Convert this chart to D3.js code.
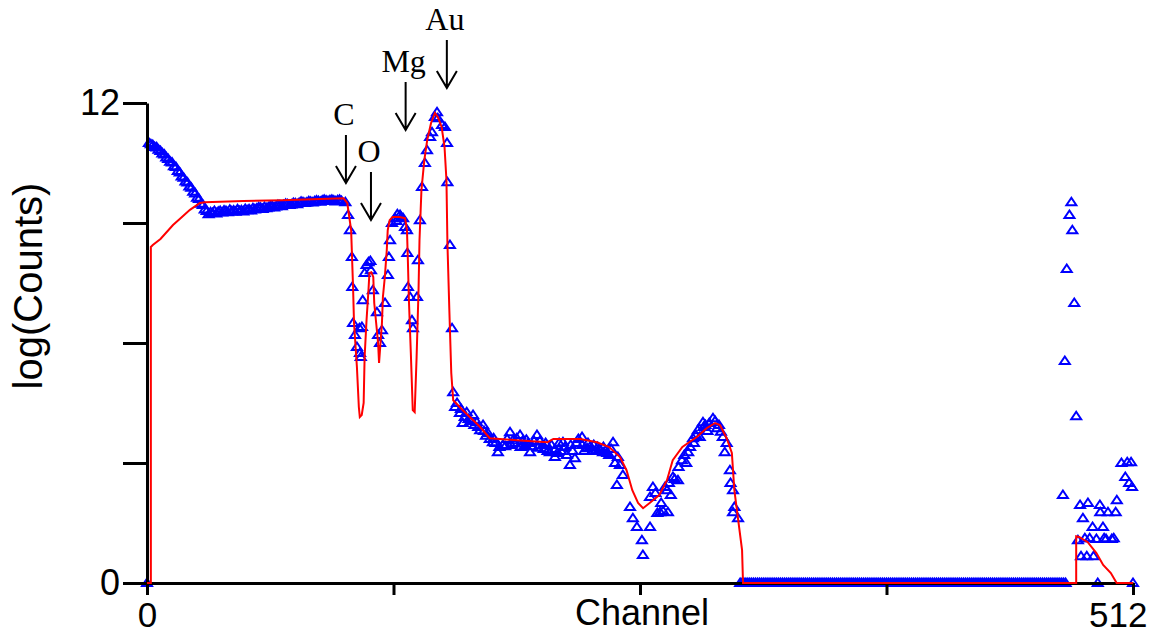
<!DOCTYPE html>
<html>
<head>
<meta charset="utf-8">
<script src="https://cdn.jsdelivr.net/npm/d3@7"></script>
<style>
  body { margin: 0; background: #fff; }
  svg { display: block; }
  .axis text { font-family: "Liberation Sans", Arial, sans-serif; font-size: 36px; fill: #000; }
  .axis line, .axis path { stroke: #000; stroke-width: 3; }
</style>
</head>
<body>
<script>
// measured spectrum, log(counts) for every channel from 0 to 101
const surfaceStart = 0;
const surfaceCounts = [
  0,
  11.0, 10.97, 10.95, 10.9, 10.89, 10.83, 10.8, 10.74, 10.71, 10.64,
  10.6, 10.53, 10.51, 10.42, 10.4, 10.3, 10.26, 10.16, 10.13, 10.04,
  10.01, 9.91, 9.88, 9.78, 9.74, 9.63, 9.6, 9.48, 9.45, 9.34,
  9.3, 9.22, 9.27, 9.25, 9.3, 9.24, 9.28, 9.3, 9.26, 9.31,
  9.3, 9.27, 9.33, 9.29, 9.31, 9.28, 9.34, 9.3, 9.32, 9.29,
  9.35, 9.32, 9.34, 9.31, 9.37, 9.34, 9.36, 9.39, 9.38, 9.35,
  9.4, 9.37, 9.39, 9.42, 9.42, 9.39, 9.41, 9.45, 9.44, 9.42,
  9.45, 9.48, 9.47, 9.45, 9.46, 9.5, 9.49, 9.47, 9.5, 9.53,
  9.52, 9.5, 9.51, 9.54, 9.53, 9.51, 9.54, 9.56, 9.55, 9.53,
  9.56, 9.58, 9.56, 9.55, 9.57, 9.58, 9.56, 9.54, 9.57, 9.58, 9.55
];
// [channel, log(counts)] in the peak and bulk regions
const peakCounts = [
  [103, 9.52], [104.4, 9.2], [105.4, 8.82], [106.4, 8.15], [106.6, 7.4], [107, 6.5], [108, 6.2],
  [109, 5.9], [110.3, 6.37], [110.6, 5.75], [111, 5.65], [111.6, 6.4], [112, 7.07], [113, 7.75],
  [114, 7.95], [115, 8.02], [116, 8.05], [116.3, 7.82], [117.3, 7.32], [119.4, 6.77], [120, 6.2],
  [121, 6.0], [122, 6.32], [123.6, 7.0], [125.1, 7.7], [125.6, 8.15], [126.2, 8.57], [127.2, 9.0],
  [128.8, 9.12], [129.5, 9.05], [130, 9.22], [131.4, 9.2], [132, 9.15], [133, 9.12], [134, 8.9],
  [135, 8.82], [135.2, 8.25], [135.5, 7.4], [136.6, 7.15], [137.6, 6.57], [138.1, 6.37],
  [140.2, 7.15], [140.7, 8.07], [141.7, 9.07], [142.8, 9.9], [144.3, 10.5], [145.4, 10.82],
  [147, 11.15], [148, 11.27], [149.5, 11.65], [150.6, 11.77], [151, 11.62], [153.2, 11.45],
  [154.7, 11.4], [155.8, 11.0], [156, 10.02], [157.3, 8.45], [158.4, 6.37], [159, 4.77]
];
const bulkCounts = [
  [160, 4.4], [161, 4.5], [162.5, 4.25], [163, 4.35], [164, 4.0], [165, 4.15], [166, 4.27],
  [167, 4.1], [168, 4.05], [169.3, 4.2], [170, 3.95], [171.3, 4.02], [172, 3.9], [173, 3.82],
  [174.5, 3.95], [175, 3.8], [176, 3.68], [177, 3.75], [178, 3.6], [179.6, 3.52], [180, 3.62],
  [181, 3.5], [182.2, 3.27], [183, 3.4], [184.8, 3.45], [186, 3.42], [187, 3.6], [188.5, 3.77],
  [189, 3.45], [190, 3.57], [191, 3.5], [192, 3.62], [193.7, 3.7], [194, 3.4], [195, 3.55],
  [196.3, 3.45], [197, 3.58], [198, 3.5], [198.9, 3.27], [200, 3.42], [201, 3.55], [202.5, 3.7],
  [203, 3.38], [204, 3.55], [205.6, 3.45], [206, 3.35], [207, 3.5], [208, 3.3], [209.2, 3.27],
  [210, 3.45], [211.8, 3.15], [212, 3.35], [213, 3.25], [214, 3.5], [215, 3.3], [216, 3.52],
  [217, 3.4], [218, 3.2], [219.6, 2.95], [220, 3.45], [221, 3.3], [222.2, 3.12], [223, 3.5],
  [224, 3.6], [225.9, 3.65], [226, 3.45], [227, 3.3], [228.5, 3.37], [229, 3.5], [230, 3.4],
  [231.6, 3.32], [232, 3.45], [233, 3.3], [234, 3.4], [235, 3.35], [236.8, 3.27], [237, 3.4],
  [238, 3.3], [239, 3.25], [240, 3.2], [241, 3.35], [242, 3.52], [243, 3.0], [244, 2.45],
  [244.5, 3.15], [245.6, 2.95], [247.1, 2.7], [250.8, 1.9], [252.3, 1.62], [254.4, 1.4],
  [257, 1.07], [257.5, 0.7], [261.2, 1.4], [261.2, 2.15], [262.7, 2.4], [264, 2.25], [265, 1.75],
  [266.4, 1.77], [267, 2.0], [268, 1.8], [269, 2.4], [270, 2.32], [270.5, 1.77], [271, 2.5],
  [272, 2.2], [273.1, 2.65], [274, 2.6], [275.7, 2.57], [276, 2.9], [277.8, 3.07], [279, 3.2],
  [280, 3.0], [281, 3.27], [282, 3.4], [283.5, 3.62], [284, 3.5], [285, 3.7], [286, 3.82],
  [287, 3.65], [288.7, 4.02], [289, 3.9], [290, 3.95], [291, 3.8], [292, 4.0], [293.9, 4.12],
  [295, 4.05], [296, 3.87], [297, 3.95], [298, 3.78], [299, 3.65], [300, 3.27], [301, 3.5],
  [302.7, 2.82], [303, 2.5], [304.3, 2.32], [304.3, 1.77], [305, 1.9], [306.9, 1.62]
];
// empty channels 308 to 477, one value per channel
const zeroStart = 308;
const zeroCounts = [
  0, 0, 0, 0, 0, 0, 0, 0, 0, 0,  0, 0, 0, 0, 0, 0, 0, 0, 0, 0,
  0, 0, 0, 0, 0, 0, 0, 0, 0, 0,  0, 0, 0, 0, 0, 0, 0, 0, 0, 0,
  0, 0, 0, 0, 0, 0, 0, 0, 0, 0,  0, 0, 0, 0, 0, 0, 0, 0, 0, 0,
  0, 0, 0, 0, 0, 0, 0, 0, 0, 0,  0, 0, 0, 0, 0, 0, 0, 0, 0, 0,
  0, 0, 0, 0, 0, 0, 0, 0, 0, 0,  0, 0, 0, 0, 0, 0, 0, 0, 0, 0,
  0, 0, 0, 0, 0, 0, 0, 0, 0, 0,  0, 0, 0, 0, 0, 0, 0, 0, 0, 0,
  0, 0, 0, 0, 0, 0, 0, 0, 0, 0,  0, 0, 0, 0, 0, 0, 0, 0, 0, 0,
  0, 0, 0, 0, 0, 0, 0, 0, 0, 0,  0, 0, 0, 0, 0, 0, 0, 0, 0, 0,
  0, 0, 0, 0, 0, 0, 0, 0, 0, 0
];
const edgeCounts = [
  [475.6, 2.2], [476.6, 5.55], [477.6, 7.85], [479, 9.2], [480, 9.52], [480.5, 8.82],
  [481.5, 7.0], [482.5, 4.17], [483.4, 1.07], [484.5, 1.95], [485, 0.67], [486, 1.62],
  [487, 1.12], [488, 0.67], [488.6, 2.0], [489.5, 1.12], [491, 1.4], [491.5, 0.67], [493, 1.1],
  [493.7, 0], [494.8, 1.95], [495, 1.77], [496.4, 1.4], [497, 1.12], [498, 1.1], [499, 1.77],
  [501, 1.1], [502, 1.12], [503, 1.77], [503.6, 2.07], [506, 3.0], [508, 2.65], [509, 3.02],
  [510, 2.5], [511, 3.02], [511.5, 2.4], [512, 0]
];

// simulated spectrum (red), [channel, log(counts)]
const fitCurve = [
  [0, 0], [2, 0], [2, 8.4], [3, 8.45], [7, 8.6], [13.5, 8.95], [17, 9.1], [22.3, 9.33],
  [27.5, 9.5], [30, 9.52], [50, 9.55], [70, 9.57], [90, 9.6], [102, 9.62], [104, 9.5],
  [106, 8.82], [107, 7.4], [107.5, 6.5], [109, 5.4], [110, 4.4], [110.5, 4.15], [111.5, 4.2],
  [112.5, 4.5], [113, 5.65], [114, 6.57], [115, 7.32], [115.5, 7.75], [116.5, 7.77],
  [117.5, 7.65], [118, 7.0], [119, 6.5], [120, 6.0], [120.5, 5.5], [122, 6.5], [122.5, 7.15],
  [123.5, 7.65], [124.5, 8.32], [125, 8.82], [126, 9.07], [127.5, 9.15], [131, 9.15],
  [134, 9.12], [135, 8.82], [135.5, 8.0], [136, 7.07], [137, 5.75], [138, 4.32], [139, 4.27],
  [140, 5.65], [141, 7.32], [141.5, 8.57], [142.5, 9.82], [144, 10.57], [145.5, 11.07],
  [147.5, 11.5], [149.5, 11.75], [151, 11.65], [153, 11.4], [154.5, 10.9], [155.5, 10.07],
  [156, 8.5], [157, 6.82], [158, 5.25], [159, 4.57], [164, 4.32], [173, 3.9], [178, 3.62],
  [192, 3.57], [208, 3.52], [211, 3.6], [225, 3.6], [233.6, 3.52], [240, 3.4], [245.6, 3.15],
  [249, 2.82], [252, 2.32], [255, 2.0], [257.6, 1.87], [261, 2.0], [266, 2.2], [270, 2.57],
  [273, 3.07], [278, 3.4], [285.5, 3.65], [290.6, 3.87], [295, 4.0], [297.5, 3.95],
  [301, 3.62], [303.7, 3.25], [305, 2.32], [307, 1.57], [309, 0.82], [309.5, 0],
  [482.5, 0], [482.5, 1.17], [484, 1.15], [488.5, 1.02], [493, 0.75], [496.5, 0.45],
  [500.5, 0.25], [503.5, 0], [512, 0]
];

// element edges marked with arrows
const elements = [
  { name: "C", channel: 103.3 },
  { name: "O", channel: 116.3 },
  { name: "Mg", channel: 134.3 },
  { name: "Au", channel: 155.7 }
];

const xTicks = [0, 128, 256, 384, 512];
const yTicks = [0, 3, 6, 9, 12];

const W = 1151, H = 634;
const svg = d3.select("body").append("svg").attr("width", W).attr("height", H);
svg.append("rect").attr("width", W).attr("height", H).attr("fill", "#fff");

const x = d3.scaleLinear().domain([0, 512]).range([147, 1133]);
const y = d3.scaleLinear().domain([0, 12]).range([583, 103]);

const points = surfaceCounts.map((v, i) => [surfaceStart + i, v])
  .concat(peakCounts, bulkCounts,
    zeroCounts.map((v, i) => [zeroStart + i, v]), edgeCounts);

// triangles
svg.append("g")
  .selectAll("path")
  .data(points)
  .join("path")
    .attr("transform", d => `translate(${x(d[0])},${y(d[1])})`)
    .attr("d", "M0,-4.5L5,3L-5,3Z")
    .attr("fill", "none")
    .attr("stroke", "#0000ff")
    .attr("stroke-width", 2);

// axes
svg.append("g")
  .attr("class", "axis")
  .attr("transform", "translate(147,0)")
  .call(d3.axisLeft(y).tickValues(yTicks).tickSize(24).tickSizeOuter(0)
    .tickFormat(d => (d === 0 || d === 12) ? d : ""));

const xAxis = svg.append("g")
  .attr("class", "axis")
  .attr("transform", "translate(0,583)")
  .call(d3.axisBottom(x).tickValues(xTicks).tickSize(12).tickSizeOuter(0).tickPadding(7)
    .tickFormat(d => (d === 0 || d === 512) ? d : ""));
xAxis.selectAll(".tick text").style("font-size", "35px");
xAxis.selectAll(".tick text").filter(d => d === 512)
  .attr("text-anchor", "end")
  .attr("x", 14);

// fit line
svg.append("path")
  .datum(fitCurve)
  .attr("fill", "none")
  .attr("stroke", "#ff0000")
  .attr("stroke-width", 2)
  .attr("d", d3.line().x(d => x(d[0])).y(d => y(d[1])));

svg.append("text")
  .attr("x", x(256) + 2)
  .attr("y", 625)
  .attr("text-anchor", "middle")
  .style("font-family", "Liberation Sans, Arial, sans-serif")
  .style("font-size", "36px")
  .text("Channel");

svg.append("text")
  .attr("transform", "translate(42,286) rotate(-90)")
  .attr("text-anchor", "middle")
  .style("font-family", "Liberation Sans, Arial, sans-serif")
  .style("font-size", "40px")
  .text("log(Counts)");

// element labels and arrows
const labelBase = { C: 125, O: 162, Mg: 72, Au: 30 };
const marks = svg.append("g");
elements.forEach(e => {
  const cx = x(e.channel);
  const base = labelBase[e.name];
  marks.append("text")
    .attr("x", cx - 2)
    .attr("y", base)
    .attr("text-anchor", "middle")
    .style("font-family", "Liberation Serif, Times New Roman, serif")
    .style("font-size", "32px")
    .text(e.name);
  const y0 = base + 10, y1 = base + 58;
  marks.append("path")
    .attr("d", `M${cx},${y0}V${y1}M${cx - 10},${y1 - 17}L${cx},${y1}L${cx + 10},${y1 - 17}`)
    .attr("fill", "none")
    .attr("stroke", "#000")
    .attr("stroke-width", 2);
});
</script>
</body>
</html>
